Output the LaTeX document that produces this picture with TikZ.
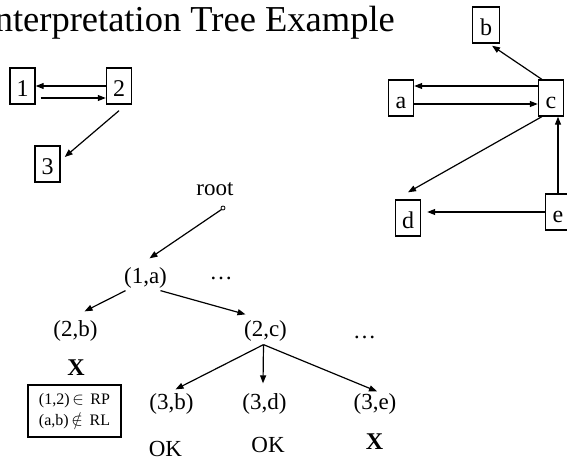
\documentclass[tikz,border=0pt]{standalone}
\usepackage{fontspec}
\setmainfont{Liberation Serif}
\usetikzlibrary{arrows.meta}

\begin{document}
\begin{tikzpicture}[x=1pt,y=-1pt,
    box/.style={draw,line width=1.4pt,minimum width=25pt,minimum height=36pt,
      inner sep=0pt,text height=20pt,text depth=0pt,font=\fontsize{24}{24}\selectfont},
    lbl/.style={inner sep=0pt,font=\fontsize{23}{23}\selectfont},
    verdict/.style={inner sep=0pt,anchor=base,font=\fontsize{23}{23}\selectfont},
    edge/.style={-{Triangle[length=8pt,width=6pt]},line width=1.2pt}]
      \useasboundingbox (0,0) rectangle (567,461);
      \node[anchor=base east,inner sep=0pt,font=\fontsize{36.5}{36.5}\selectfont]
        (title) at (395,31) {Interpretation Tree Example};
      \draw
        (22.5,86) node[box] (1){1}
        (119,86) node[box] (2){2}
        (47.5,164) node[box] (3){3}
        (401,98) node[box] (a){a}
        (486,25) node[box,minimum width=27pt] (b){b}
        (551,98) node[box] (c){c}
        (408,218) node[box] (d){d}
        (558,212) node[box] (e){e};
      \draw
        (215,195) node[verdict] (root){root}
        (145.5,278) node[lbl] (1a){(1,a)}
        (75.5,331) node[lbl] (2b){(2,b)}
        (265.5,331) node[lbl] (2c){(2,c)}
        (171.5,404) node[lbl] (3b){(3,b)}
        (264.5,404) node[lbl] (3d){(3,d)}
        (375,404) node[lbl] (3e){(3,e)}
        (221,279) node[verdict] (more1){…}
        (364.5,338) node[verdict] (more2){…}
        (76,375) node[verdict,font=\fontsize{24}{24}\selectfont\bfseries] (no2b){X}
        (165.5,456.5) node[verdict] (ok3b){OK}
        (268,452) node[verdict] (ok3d){OK}
        (374.5,449) node[verdict,font=\fontsize{24}{24}\selectfont\bfseries] (no3e){X};
      \node[draw,line width=1.4pt,minimum width=93pt,minimum height=52pt,inner sep=0pt,
        align=center,font=\fontsize{16}{21}\selectfont] (why) at (74.5,411)
        {(1,2)\,$\in$\, RP\\(a,b)\,$\notin$\, RL};
      \draw[line width=0.8pt] (223,208) circle (2pt);
      \coordinate (top) at (223,208);
      \begin{scope}[edge]
        \draw (2.west) to (1.east);
        \draw ([xshift=5pt,yshift=-12pt]1.east) to ([yshift=-12pt]2.west);
        \draw ([yshift=-6pt]2.south) to ([xshift=4pt,yshift=7pt]3.east);
        \draw ([xshift=4pt]c.north west) to ([xshift=6pt,yshift=-2pt]b.south);
        \draw ([yshift=12pt]c.west) to ([yshift=12pt]a.east);
        \draw ([yshift=-6pt]a.east) to ([yshift=-6pt]c.west);
        \draw ([xshift=4pt]c.south west) to ([yshift=7pt]d.north);
        \draw (e.north) to (e.north |- c.south);
        \draw[shorten >=6pt] (e.west) to (e.west -| d.east);
        \draw ([shift={(-1.5pt,-1.5pt)}]top) to ([xshift=4pt,yshift=9pt]1a.north);
        \draw ([xshift=-20pt,yshift=-2pt]1a.south) to ([xshift=9pt,yshift=9pt]2b.north);
        \draw ([xshift=15pt,yshift=-2pt]1a.south) to ([xshift=-20pt,yshift=6pt]2c.north);
        \draw ([xshift=-2pt,yshift=-3pt]2c.south) to ([xshift=4pt,yshift=4pt]3b.north);
        \draw ([xshift=-2pt,yshift=-3pt]2c.south) to ([xshift=-1.5pt,yshift=10pt]3d.north);
        \draw ([xshift=-2pt,yshift=-3pt]2c.south) to ([xshift=2pt,yshift=2pt]3e.north);
      \end{scope}
    \end{tikzpicture}
\end{document}
